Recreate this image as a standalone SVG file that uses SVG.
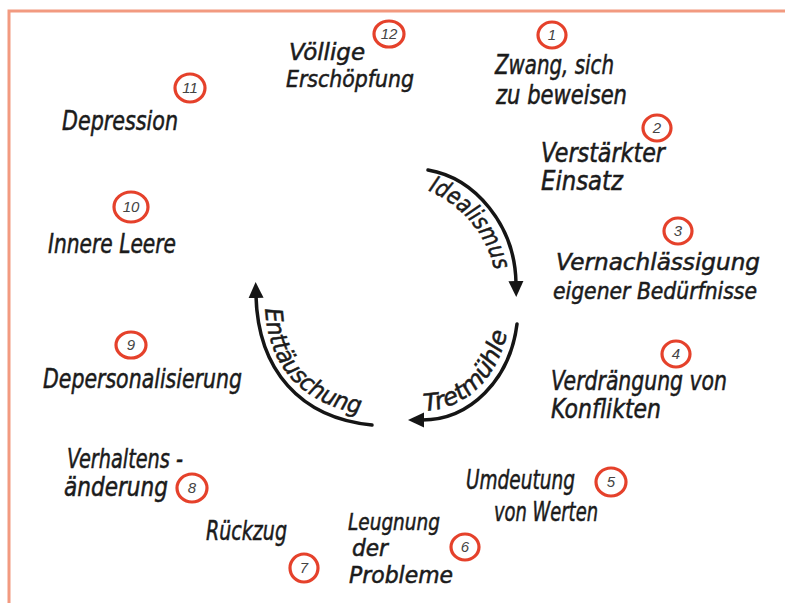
<svg xmlns="http://www.w3.org/2000/svg" width="785" height="603" viewBox="0 0 785 603">
<style>
.lbl{font-family:"Liberation Sans Narrow","DejaVu Sans Condensed","Liberation Sans",sans-serif;font-style:italic;font-size:26px;fill:#1b1b1b;stroke:#1b1b1b;stroke-width:0.5}
.tight{font-size:23px}
.arc-lbl{font-family:"Liberation Sans Narrow","DejaVu Sans Condensed","Liberation Sans",sans-serif;font-style:italic;font-size:24px;fill:#1b1b1b;stroke:#1b1b1b;stroke-width:0.5}
.ring{fill:none;stroke:#E5412B;stroke-width:3.2}
.num{font-family:"Liberation Sans","DejaVu Sans",sans-serif;font-style:italic;font-size:15px;fill:#444;text-anchor:middle}
.arrow{fill:none;stroke:#151515;stroke-width:3.5;stroke-linecap:round}
</style>
<defs>
<marker id="ah" markerUnits="userSpaceOnUse" markerWidth="18" markerHeight="18" viewBox="0 0 18 18" refX="2" refY="9" orient="auto">
<path d="M0,1.5 L16,9 L0,16.5 Z" fill="#151515"/>
</marker>
<path id="p-ideal" d="M428,190.5 A113,113 0 0 1 495.3,274.4"/>
<path id="p-tret" d="M422,411 C466,411 502,376 509,322"/>
<path id="p-entt" d="M265,306 C267,370 306,409 376,416"/>
</defs>
<rect width="785" height="603" fill="#ffffff"/>
<path d="M9,603 V11 H785" fill="none" stroke="#F29A80" stroke-width="3"/>

<g id="connectors">
<path class="arrow" d="M428,170 C475,178 515,225 516,283" marker-end="url(#ah)"/>
<path class="arrow" d="M517,324 C510,380 470,420 422,420" marker-end="url(#ah)"/>
<path class="arrow" d="M372,425 C300,418 258,370 256,296" marker-end="url(#ah)"/>
<text class="arc-lbl"><textPath href="#p-ideal" textLength="108" lengthAdjust="spacingAndGlyphs">Idealismus</textPath></text>
<text class="arc-lbl"><textPath href="#p-tret" startOffset="2" textLength="124" lengthAdjust="spacingAndGlyphs">Tretmühle</textPath></text>
<text class="arc-lbl"><textPath href="#p-entt" startOffset="3" textLength="154" lengthAdjust="spacingAndGlyphs">Enttäuschung</textPath></text>
</g>

<g id="n1">
<ellipse class="ring" cx="552" cy="35" rx="14" ry="13"/><text class="num" x="552" y="40">1</text>
<text class="lbl" x="495" y="74" textLength="119" lengthAdjust="spacingAndGlyphs">Zwang, sich</text>
<text class="lbl" x="496" y="104" textLength="131" lengthAdjust="spacingAndGlyphs">zu beweisen</text>
</g>
<g id="n2">
<ellipse class="ring" cx="657" cy="128" rx="14" ry="13"/><text class="num" x="657" y="133">2</text>
<text class="lbl" x="541" y="162" textLength="124" lengthAdjust="spacingAndGlyphs">Verstärkter</text>
<text class="lbl" x="541" y="190" textLength="82" lengthAdjust="spacingAndGlyphs">Einsatz</text>
</g>
<g id="n3">
<ellipse class="ring" cx="678" cy="231" rx="14" ry="13"/><text class="num" x="678" y="236">3</text>
<text class="lbl tight" x="556" y="270" textLength="204" lengthAdjust="spacingAndGlyphs">Vernachlässigung</text>
<text class="lbl tight" x="553" y="299" textLength="204" lengthAdjust="spacingAndGlyphs">eigener Bedürfnisse</text>
</g>
<g id="n4">
<ellipse class="ring" cx="676" cy="354" rx="14" ry="13"/><text class="num" x="676" y="359">4</text>
<text class="lbl" x="551" y="390" textLength="176" lengthAdjust="spacingAndGlyphs">Verdrängung von</text>
<text class="lbl" x="551" y="418" textLength="110" lengthAdjust="spacingAndGlyphs">Konflikten</text>
</g>
<g id="n5">
<ellipse class="ring" cx="611" cy="482" rx="15" ry="14"/><text class="num" x="611" y="487">5</text>
<text class="lbl" x="466" y="489" textLength="109" lengthAdjust="spacingAndGlyphs">Umdeutung</text>
<text class="lbl" x="494" y="521" textLength="104" lengthAdjust="spacingAndGlyphs">von Werten</text>
</g>
<g id="n6">
<ellipse class="ring" cx="465" cy="547" rx="14" ry="13"/><text class="num" x="465" y="552">6</text>
<text class="lbl tight" x="348" y="530" textLength="92" lengthAdjust="spacingAndGlyphs">Leugnung</text>
<text class="lbl tight" x="352" y="556" textLength="36" lengthAdjust="spacingAndGlyphs">der</text>
<text class="lbl tight" x="349" y="583" textLength="104" lengthAdjust="spacingAndGlyphs">Probleme</text>
</g>
<g id="n7">
<ellipse class="ring" cx="304" cy="568" rx="14" ry="14"/><text class="num" x="304" y="573">7</text>
<text class="lbl" x="206" y="540" textLength="81" lengthAdjust="spacingAndGlyphs">Rückzug</text>
</g>
<g id="n8">
<ellipse class="ring" cx="192" cy="488" rx="15" ry="14"/><text class="num" x="192" y="493">8</text>
<text class="lbl" x="67" y="468" textLength="116" lengthAdjust="spacingAndGlyphs">Verhaltens -</text>
<text class="lbl" x="64" y="496" textLength="104" lengthAdjust="spacingAndGlyphs">änderung</text>
</g>
<g id="n9">
<ellipse class="ring" cx="131" cy="345" rx="15" ry="13"/><text class="num" x="131" y="350">9</text>
<text class="lbl" x="43" y="388" textLength="199" lengthAdjust="spacingAndGlyphs">Depersonalisierung</text>
</g>
<g id="n10">
<ellipse class="ring" cx="131" cy="207" rx="17" ry="15"/><text class="num" x="131" y="212">10</text>
<text class="lbl" x="48" y="253" textLength="128" lengthAdjust="spacingAndGlyphs">Innere Leere</text>
</g>
<g id="n11">
<ellipse class="ring" cx="190" cy="88" rx="15" ry="14"/><text class="num" x="190" y="93">11</text>
<text class="lbl" x="62" y="130" textLength="116" lengthAdjust="spacingAndGlyphs">Depression</text>
</g>
<g id="n12">
<ellipse class="ring" cx="389" cy="34" rx="15" ry="13"/><text class="num" x="389" y="39">12</text>
<text class="lbl tight" x="289" y="60" textLength="76" lengthAdjust="spacingAndGlyphs">Völlige</text>
<text class="lbl tight" x="286" y="87" textLength="128" lengthAdjust="spacingAndGlyphs">Erschöpfung</text>
</g>
</svg>
